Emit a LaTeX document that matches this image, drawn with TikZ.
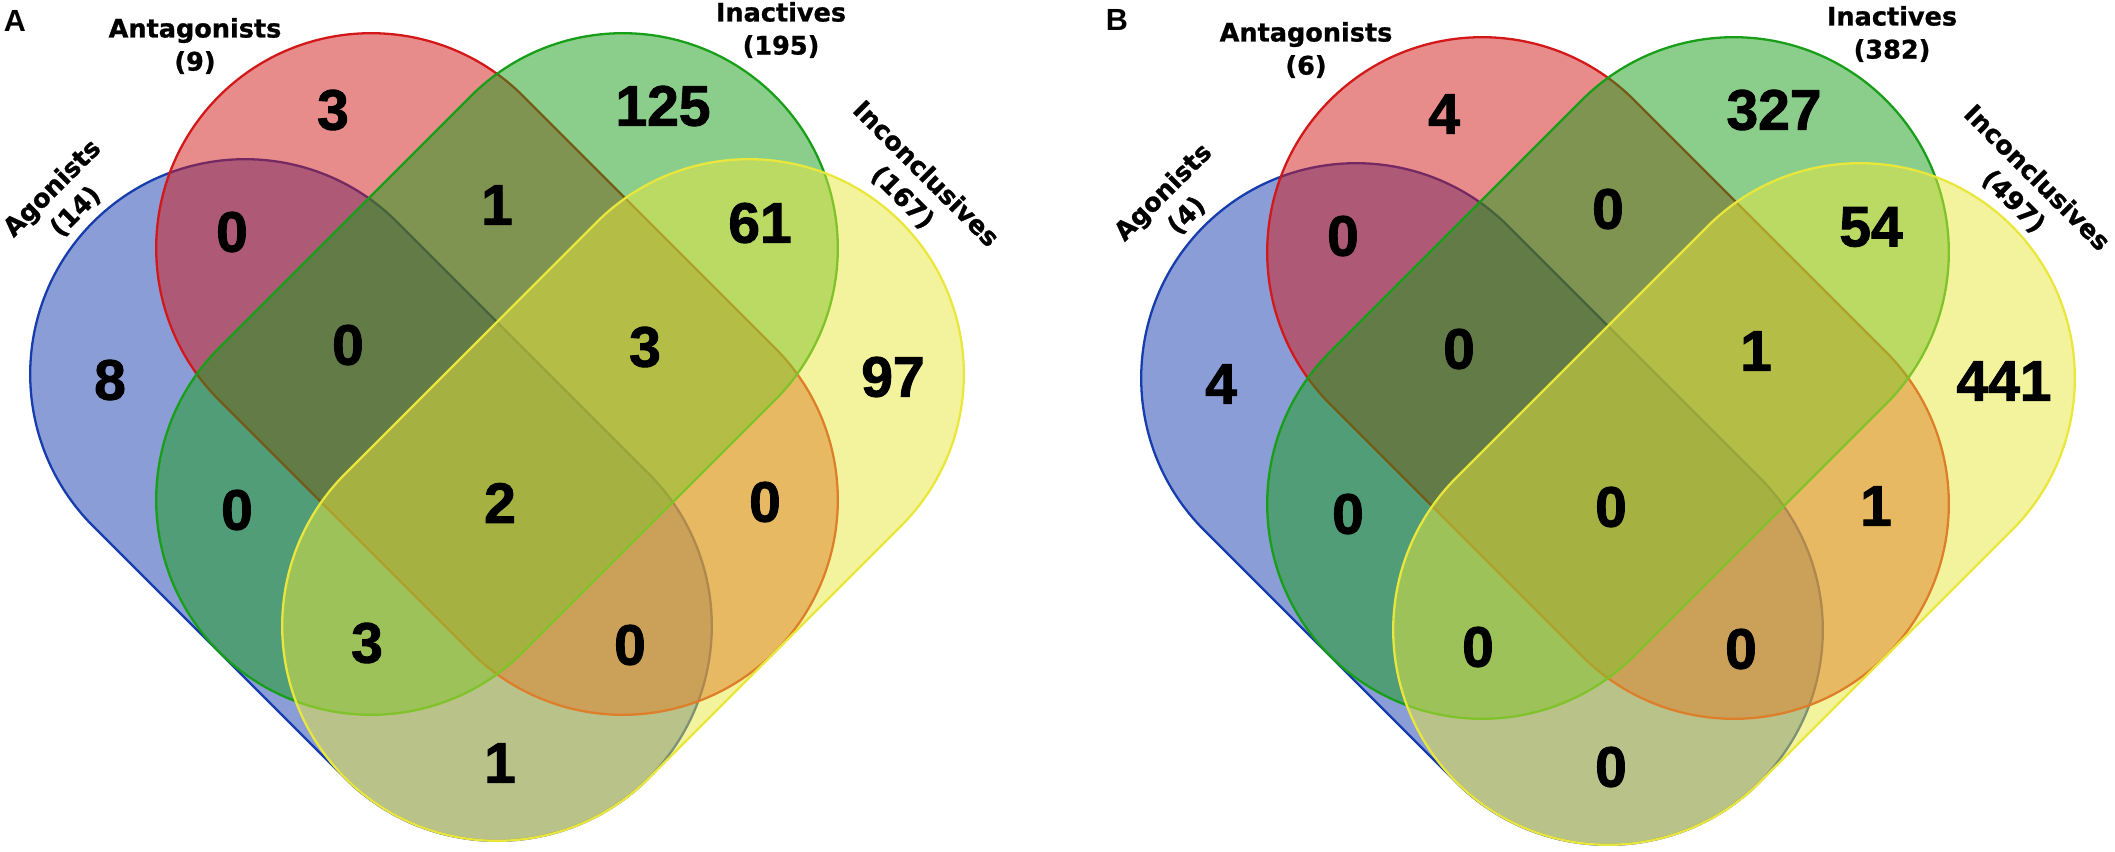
\documentclass[tikz,border=0pt]{standalone}
\usepackage{fontspec}
\setmainfont{Liberation Sans}
\newfontfamily\setfont[FakeBold=1]{DejaVu Sans}
\newfontfamily\numfont[FakeBold=1.6]{Liberation Sans}

\definecolor{agocol}{RGB}{22,60,174}
\definecolor{antcol}{RGB}{210,24,24}
\definecolor{inacol}{RGB}{24,158,24}
\definecolor{inccol}{RGB}{233,231,60}

\begin{document}
\begin{tikzpicture}[x=0.01cm, y=-0.01cm,
    every node/.style={inner sep=0pt, font=\numfont\bfseries\fontsize{16.2pt}{19pt}\selectfont},
    setname/.style={font=\setfont\bfseries\fontsize{7.26pt}{9.4pt}\selectfont, align=center},
    panel/.style={font=\bfseries\fontsize{8.7pt}{10pt}\selectfont},
    capsule/.style={line width=0.65pt, draw=#1, fill=#1, fill opacity=0.5, rounded corners=2.15cm}]
    \useasboundingbox (0,0) rectangle (2115,851);

    % panel A
    \node[panel] (letA) at (15,21) {A};
    \begin{scope}
      \draw[capsule=agocol, shift={(371,500)}, rotate=-45] (-393,-215) rectangle (393,215);
      \draw[capsule=antcol, shift={(497,374)}, rotate=-45] (-393,-215) rectangle (393,215);
      \draw[capsule=inacol, shift={(497,374)}, rotate=45] (-393,-215) rectangle (393,215);
      \draw[capsule=inccol, shift={(623,500)}, rotate=45] (-393,-215) rectangle (393,215);

      \node[setname] (antnameA) at (195,46) {Antagonists\\(9)};
      \node[setname] (inanameA) at (781,30) {Inactives\\(195)};
      \node[setname, rotate=45] (agonameA) at (64,200) {Agonists\\(14)};
      \node[setname, rotate=-45] (incnameA) at (914,186) {Inconclusives\\(167)};

      \node (agoA) at (110,380) {8};
      \node (antA) at (333,110) {3};
      \node (inaA) at (663,106) {125};
      \node (incA) at (893,377) {97};
      \node (agoantA) at (232,232) {0};
      \node (antinaA) at (497,205) {1};
      \node (inaincA) at (760,223) {61};
      \node (agoantinaA) at (348,345) {0};
      \node (antinaincA) at (645,347) {3};
      \node (agoinaA) at (237,510) {0};
      \node (allA) at (500,503) {2};
      \node (antincA) at (765,502) {0};
      \node (agoinaincA) at (367,643) {3};
      \node (agoantincA) at (630,645) {0};
      \node (agoincA) at (500,763) {1};
    \end{scope}

    % panel B
    \node[panel] (letB) at (1117,20) {B};
    \begin{scope}[shift={(1111,4)}]
      \draw[capsule=agocol, shift={(371,500)}, rotate=-45] (-393,-215) rectangle (393,215);
      \draw[capsule=antcol, shift={(497,374)}, rotate=-45] (-393,-215) rectangle (393,215);
      \draw[capsule=inacol, shift={(497,374)}, rotate=45] (-393,-215) rectangle (393,215);
      \draw[capsule=inccol, shift={(623,500)}, rotate=45] (-393,-215) rectangle (393,215);

      \node[setname] (antnameB) at (195,46) {Antagonists\\(6)};
      \node[setname] (inanameB) at (781,30) {Inactives\\(382)};
      \node[setname, rotate=45] (agonameB) at (64,200) {Agonists\\(4)};
      \node[setname, rotate=-45] (incnameB) at (914,186) {Inconclusives\\(497)};

      \node (agoB) at (110,380) {4};
      \node (antB) at (333,110) {4};
      \node (inaB) at (663,106) {327};
      \node (incB) at (893,377) {441};
      \node (agoantB) at (232,232) {0};
      \node (antinaB) at (497,205) {0};
      \node (inaincB) at (760,223) {54};
      \node (agoantinaB) at (348,345) {0};
      \node (antinaincB) at (645,347) {1};
      \node (agoinaB) at (237,510) {0};
      \node (allB) at (500,503) {0};
      \node (antincB) at (765,502) {1};
      \node (agoinaincB) at (367,643) {0};
      \node (agoantincB) at (630,645) {0};
      \node (agoincB) at (500,763) {0};
    \end{scope}
\end{tikzpicture}
\end{document}
